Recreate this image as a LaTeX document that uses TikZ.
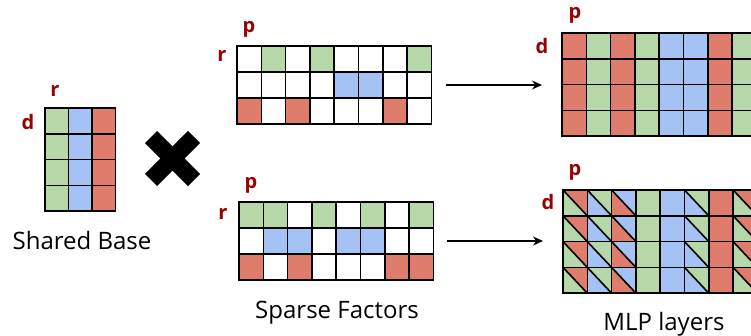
\documentclass[tikz,border=0pt]{standalone}
\usepackage{fontspec}
\setmainfont{Open Sans}
\usetikzlibrary{positioning,calc,arrows.meta}
\definecolor{cellgreen}{HTML}{B6D7A8}
\definecolor{cellblue}{HTML}{A4C2F4}
\definecolor{cellred}{HTML}{E07C6B}
\definecolor{dimred}{HTML}{990000}
\begin{document}
\begin{tikzpicture}
[x=1pt,y=-1pt,
 cell/.style={draw=black,line width=1.6pt},
 grid/.style={inner sep=0pt,outer sep=0pt,anchor=north west},
 dim/.style={font=\bfseries\fontsize{20}{22}\selectfont,text=dimred,inner sep=0pt},
 caption/.style={font=\fontsize{24}{28}\selectfont,inner sep=0pt,anchor=base},
 link/.style={-{Stealth[length=10pt,width=9pt]},line width=1.4pt}]
\useasboundingbox (0,0) rectangle (751,336);
\clip (0,0) rectangle (751,336);

% the four matrices
\node[grid,minimum width=70.5pt,minimum height=103.2pt] (base) at (45,108) {};
\node[grid,minimum width=194.4pt,minimum height=78pt] (topfac) at (237,46) {};
\node[grid,minimum width=194.4pt,minimum height=78pt] (botfac) at (239,202) {};
\node[grid,minimum width=194.4pt,minimum height=103.2pt] (topmlp) at (562,33) {};
\node[grid,minimum width=194.4pt,minimum height=103.2pt] (botmlp) at (563,190) {};

% shared base
\foreach \c [count=\i from 0] in {cellgreen,cellblue,cellred}
  \foreach \j in {0,...,3}
    \draw[cell,fill=\c] ($(base.north west)+(\i*23.5,\j*25.8)$) rectangle +(23.5,25.8);

% sparse factors
\foreach \row [count=\j from 0] in
  {{white,cellgreen,white,cellgreen,white,white,white,cellgreen},
   {white,white,white,white,cellblue,cellblue,white,white},
   {cellred,white,cellred,white,white,white,cellred,white}}
  \foreach \c [count=\i from 0] in \row
    \draw[cell,fill=\c] ($(topfac.north west)+(\i*24.3,\j*26)$) rectangle +(24.3,26);
\foreach \row [count=\j from 0] in
  {{cellgreen,cellgreen,white,cellgreen,white,cellgreen,white,cellgreen},
   {white,cellblue,cellblue,white,cellblue,cellblue,white,white},
   {cellred,white,cellred,white,white,white,cellred,cellred}}
  \foreach \c [count=\i from 0] in \row
    \draw[cell,fill=\c] ($(botfac.north west)+(\i*24.3,\j*26)$) rectangle +(24.3,26);

% MLP layers
\foreach \c [count=\i from 0] in
  {cellred,cellgreen,cellred,cellgreen,cellblue,cellblue,cellred,cellgreen}
  \foreach \j in {0,...,3}
    \draw[cell,fill=\c] ($(topmlp.north west)+(\i*24.3,\j*25.8)$) rectangle +(24.3,25.8);
\foreach \up/\lo/\diag [count=\i from 0] in
  {cellred/cellgreen/black,cellgreen/cellblue/black,cellblue/cellred/black,
   cellgreen/cellgreen/none,cellblue/cellblue/none,cellgreen/cellblue/black,
   cellred/cellred/none,cellred/cellgreen/black}
  \foreach \j in {0,...,3} {
    \coordinate (tl) at ($(botmlp.north west)+(\i*24.3,\j*25.8)$);
    \fill[\lo] (tl) rectangle +(24.3,25.8);
    \fill[\up] (tl) -- +(24.3,0) -- +(24.3,25.8) -- cycle;
    \draw[cell,draw=\diag] (tl) -- +(24.3,25.8);
    \draw[cell] (tl) rectangle +(24.3,25.8);
  }

% dimension labels
\node[dim] (base-r) at (55,91) {r};
\node[dim] (base-d) at (28,122) {d};
\node[dim] (topfac-p) at (249,29) {p};
\node[dim] (topfac-r) at (222,56) {r};
\node[dim] (botfac-p) at (251,185) {p};
\node[dim] (botfac-r) at (223,214) {r};
\node[dim] (topmlp-p) at (575,15) {p};
\node[dim] (topmlp-d) at (542,46) {d};
\node[dim] (botmlp-p) at (575,172) {p};
\node[dim] (botmlp-d) at (548,202) {d};

% product sign
\coordinate (times) at (172.5,158.5);
\draw[line width=17pt] ($(times)+(-21.5,-21.5)$) -- ($(times)+(21.5,21.5)$);
\draw[line width=17pt] ($(times)+(-21.5,21.5)$) -- ($(times)+(21.5,-21.5)$);

% arrows
\draw[link,shorten <=15pt,shorten >=20pt] (topfac.east) -- (topfac.east -| topmlp.west);
\draw[link,shorten <=14pt,shorten >=20pt] (botfac.east) -- (botfac.east -| botmlp.west);

% captions
\node[caption] (base-cap) at (82,250) {Shared Base};
\node[caption] (fac-cap) at (337,318) {Sparse Factors};
\node[caption] (mlp-cap) at (664,330) {MLP layers};
\end{tikzpicture}
\end{document}
